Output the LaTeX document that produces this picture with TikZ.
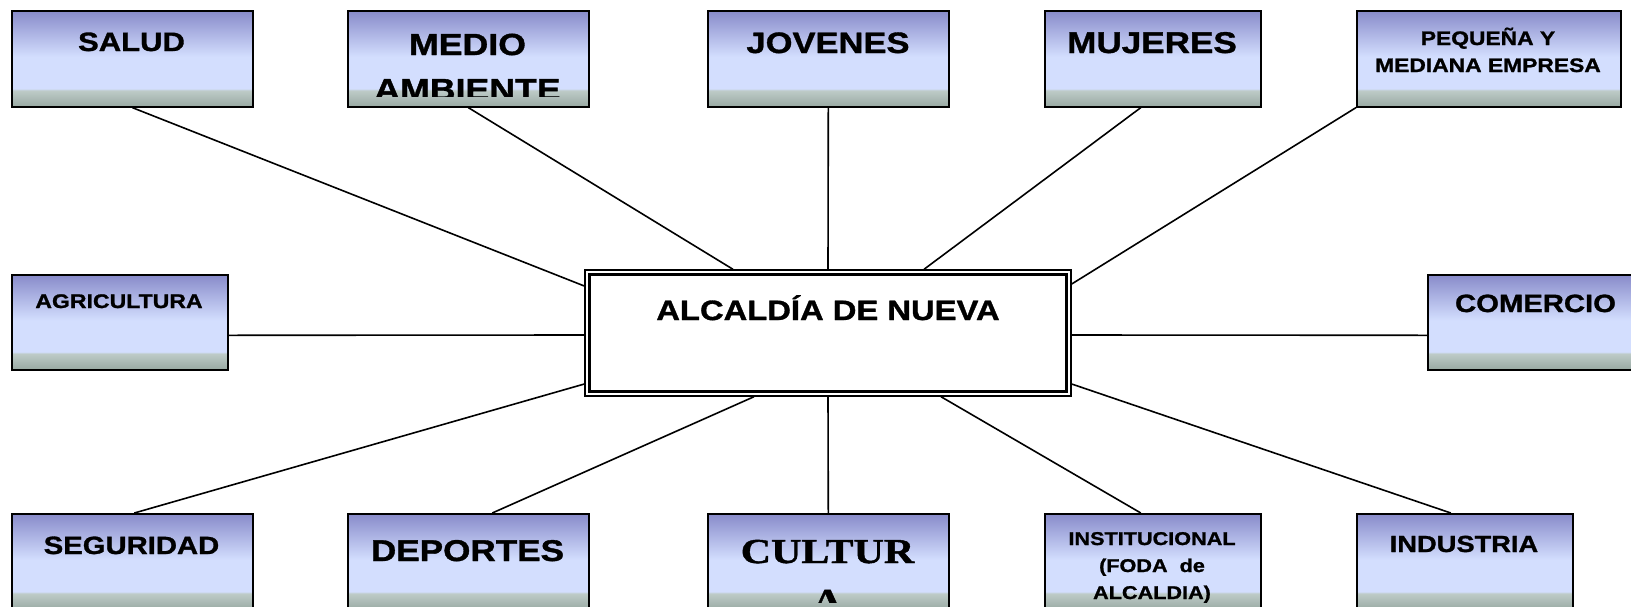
\documentclass[tikz,border=0pt]{standalone}
\usepackage{fontspec}
\newfontfamily\arb[FakeStretch=1.17,FakeBold=1.2]{Liberation Sans}
\newfontfamily\tmb[FakeStretch=1.2,FakeBold=1.2]{Liberation Serif}
\newcommand\mysz[2]{\fontsize{#1}{#2}\selectfont}
\definecolor{gtop}{RGB}{136,139,202}
\definecolor{glight}{RGB}{211,222,254}
\definecolor{gband}{RGB}{190,203,200}
\definecolor{gbot}{RGB}{152,169,162}
\pgfdeclareverticalshading{boxshade}{100bp}{color(0bp)=(gbot); color(25bp)=(gbot); color(33.5bp)=(gband); color(34.5bp)=(glight); color(51bp)=(glight); color(75bp)=(gtop); color(100bp)=(gtop)}
\tikzset{
  box/.style={draw=black, line width=1.6pt, shade, shading=boxshade, inner sep=0pt, anchor=north west},
  conn/.style={draw=black, line width=1.6pt},
  lbl/.style={inner sep=0pt, anchor=base, font=\arb\bfseries},
}
\begin{document}
\begin{tikzpicture}[x=1pt,y=-1pt]
\clip (0,0) rectangle (1631,606);
\fill[white] (0,0) rectangle (1631,606);
% central box
\node[draw=black, line width=1.4pt, fill=white, minimum width=486pt, minimum height=126pt, inner sep=0pt] (alc) at (828,333) {};
\draw[line width=2.8pt] ([xshift=5pt,yshift=-5pt]alc.north west) rectangle ([xshift=-5pt,yshift=5pt]alc.south east);
\node[lbl, font=\arb\bfseries\mysz{28}{32}] (alct) at (828,320) {ALCALDÍA DE NUEVA};
% boxes
\node[box, minimum width=241pt, minimum height=96pt] (salud) at (11,10) {};
\node[box, minimum width=241pt, minimum height=96pt] (medio) at (347,10) {};
\node[box, minimum width=241pt, minimum height=96pt] (jov) at (707,10) {};
\node[box, minimum width=216pt, minimum height=96pt] (muj) at (1044,10) {};
\node[box, minimum width=264pt, minimum height=96pt] (peq) at (1356,10) {};
\node[box, minimum width=216pt, minimum height=95pt] (agri) at (11,274) {};
\node[box, minimum width=217pt, minimum height=95pt] (com) at (1427,274) {};
\node[box, minimum width=241pt, minimum height=96pt] (seg) at (11,513) {};
\node[box, minimum width=241pt, minimum height=96pt] (dep) at (347,513) {};
\node[box, minimum width=241pt, minimum height=96pt] (cul) at (707,513) {};
\node[box, minimum width=216pt, minimum height=96pt] (inst) at (1044,513) {};
\node[box, minimum width=216pt, minimum height=96pt] (ind) at (1356,513) {};
% connectors
\draw[conn] (salud.south) -- ([yshift=47pt]alc.west);
\draw[conn] (medio.south) -- ([xshift=-95pt]alc.north);
\draw[conn] (jov.south) -- (alc.north);
\draw[conn] ([xshift=-12pt]muj.south) -- ([xshift=96pt]alc.north);
\draw[conn] (peq.south west) -- ([yshift=49pt]alc.east);
\draw[conn] ([yshift=-13pt]agri.east) -- ([yshift=-2pt]alc.west);
\draw[conn] ([yshift=-2pt]alc.east) -- ([yshift=-13pt]com.west);
\draw[conn] ([xshift=2pt]seg.north) -- ([yshift=-51pt]alc.west);
\draw[conn] ([xshift=24pt]dep.north) -- ([xshift=-74pt]alc.south);
\draw[conn] (cul.north) -- (alc.south);
\draw[conn] ([xshift=-12pt]inst.north) -- ([xshift=113pt]alc.south);
\draw[conn] ([xshift=-14pt]ind.north) -- ([yshift=-51pt]alc.east);
% labels
\node[lbl, font=\arb\bfseries\mysz{26.5}{30}] (saludt) at (131.5,51) {SALUD};
\begin{scope}
\clip (medio.north west) rectangle ([yshift=11pt]medio.south east);
\node[lbl, font=\arb\bfseries\mysz{30.5}{45}] (mediot) at (467.5,55) {\begin{tabular}[t]{@{}c@{}}MEDIO\\AMBIENTE\end{tabular}};
\end{scope}
\node[lbl, font=\arb\bfseries\mysz{29.5}{33}] (jovt) at (828,53) {JOVENES};
\node[lbl, font=\arb\bfseries\mysz{30}{33}] (mujt) at (1152,53) {MUJERES};
\node[lbl, font=\arb\bfseries\mysz{19.5}{27}] (peqt) at (1488,45) {\begin{tabular}[t]{@{}c@{}}PEQUEÑA Y\\MEDIANA EMPRESA\end{tabular}};
\node[lbl, font=\arb\bfseries\mysz{19.7}{23}] (agrit) at (119,308) {AGRICULTURA};
\node[lbl, font=\arb\bfseries\mysz{25}{28}] (comt) at (1535.5,312) {COMERCIO};
\node[lbl, font=\arb\bfseries\mysz{25}{28}] (segt) at (131.5,554) {SEGURIDAD};
\node[lbl, font=\arb\bfseries\mysz{30}{33}] (dept) at (467.5,561) {DEPORTES};
\begin{scope}
\clip (cul.north west) rectangle ([yshift=8pt]cul.south east);
\node[lbl, font=\tmb\bfseries\mysz{35}{50}] (cult) at (827.5,563) {\begin{tabular}[t]{@{}c@{}}CULTUR\\A\end{tabular}};
\end{scope}
\node[lbl, font=\arb\bfseries\mysz{18.5}{27}] (instt) at (1152,545) {\begin{tabular}[t]{@{}c@{}}INSTITUCIONAL\\(FODA\ \ de\\ALCALDIA)\end{tabular}};
\node[lbl, font=\arb\bfseries\mysz{23.3}{26}] (indt) at (1464,552) {INDUSTRIA};
\end{tikzpicture}
\end{document}
